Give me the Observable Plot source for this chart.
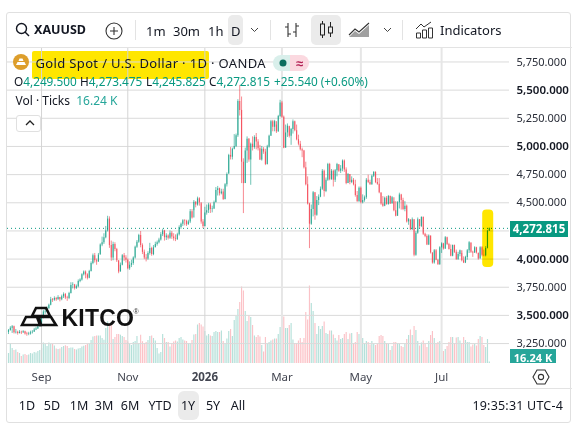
<!DOCTYPE html>
<html><head><meta charset="utf-8">
<script src="https://cdn.jsdelivr.net/npm/d3@7"></script>
<script src="https://cdn.jsdelivr.net/npm/@observablehq/plot@0.6"></script>
<style>
html,body{margin:0;padding:0;background:#fff;width:578px;height:425px;overflow:hidden}
#app{position:relative;width:578px;height:425px;font-family:"Noto Sans",sans-serif;color:#131722;font-size:13px}
#app>svg{position:absolute;left:0;top:0;background:transparent}
.a{position:absolute;white-space:nowrap;line-height:1}
.t{color:#089981}
.g{color:#26a69a}
.ic{position:absolute;overflow:visible}
</style></head><body><div id="app"></div>
<script>
const closes=[
3365,3385,3400,3345,3350,3340,3350,3345,3355,3335,
3330,3335,3345,3350,3370,3380,3400,3410,3480,3530,
3535,3560,3590,3640,3635,3650,3640,3660,3640,3665,
3685,3655,3650,3695,3765,3770,3740,3755,3800,3815,
3860,3885,3860,3830,3890,3960,4030,3985,3975,4035,
4125,4145,4190,4250,4355,4120,4010,4130,4085,3985,
3885,3945,4030,4010,3990,3915,3945,3960,4010,4105,
4150,4210,4120,4060,4010,4000,4050,4095,4040,4100,
4130,4145,4170,4215,4250,4190,4205,4185,4230,4195,
4180,4175,4215,4280,4310,4340,4335,4305,4330,4420,
4365,4505,4480,4535,4500,4330,4290,4410,4430,4480,
4440,4445,4500,4610,4625,4580,4595,4530,4660,4750,
4920,4905,4975,5000,5095,5400,5320,4860,4670,4960,
5065,4880,5020,4990,5080,5040,4980,4880,4975,4950,
4840,4995,5090,5220,5170,5220,5130,5265,5385,5260,
4985,5120,5180,5090,5150,5220,5140,5060,5020,4970,
4960,4810,4660,4490,4310,4440,4590,4390,4520,4550,
4620,4780,4600,4700,4840,4705,4780,4700,4785,4840,
4780,4800,4870,4790,4670,4750,4680,4700,4660,4565,
4510,4630,4500,4520,4545,4700,4680,4660,4735,4770,
4680,4665,4590,4490,4470,4540,4485,4555,4490,4545,
4430,4380,4500,4570,4520,4440,4470,4330,4350,4260,
4350,4035,4230,4350,4290,4370,4220,4200,4125,4205,
4055,3965,4075,3990,3950,4100,4135,4090,4190,4130,
4085,4025,4120,4060,3995,4040,4075,3985,3965,4015,
4075,4145,4060,4055,4100,4055,4000,4100,4035,4030,4095,4247.275,4272.815];
const highs=[
3375,3400,3410,3405,3375,3360,3365,3360,3365,3360,
3350,3350,3360,3365,3385,3395,3415,3420,3490,3545,
3560,3575,3600,3660,3650,3665,3660,3675,3660,3680,
3700,3695,3670,3705,3790,3790,3775,3770,3815,3825,
3870,3895,3895,3870,3900,3975,4045,4050,4000,4050,
4135,4195,4225,4290,4380,4375,4160,4150,4145,4095,
3985,3965,4040,4050,4030,4000,3975,3990,4020,4115,
4165,4220,4245,4135,4080,4040,4065,4140,4105,4120,
4150,4160,4185,4235,4265,4255,4225,4215,4250,4245,
4225,4215,4230,4295,4320,4350,4350,4345,4345,4440,
4440,4520,4510,4550,4545,4490,4350,4460,4480,4495,
4495,4470,4515,4635,4645,4630,4620,4620,4670,4765,
4930,4990,4985,5105,5110,5415,5542,5439,4890,4985,
5085,5070,5030,5085,5095,5115,5060,5010,5000,4990,
4975,5010,5100,5232,5232,5232,5190,5276,5410,5400,
5270,5190,5200,5175,5160,5235,5225,5190,5100,5045,
4985,4965,4860,4730,4495,4480,4600,4590,4555,4570,
4640,4795,4790,4720,4850,4850,4795,4790,4795,4850,
4835,4830,4880,4880,4810,4760,4750,4730,4715,4700,
4600,4640,4640,4570,4560,4715,4745,4700,4745,4775,
4775,4715,4715,4585,4555,4550,4555,4565,4560,4555,
4510,4510,4510,4585,4575,4540,4510,4480,4360,4345,
4365,4350,4245,4365,4350,4375,4375,4230,4215,4215,
4205,4055,4085,4085,3995,4110,4145,4140,4200,4195,
4140,4125,4125,4125,4080,4060,4080,4050,4020,4025,
4085,4155,4140,4070,4110,4105,4050,4110,4110,4080,4110,4255,4273.475];
const lows=[
3330,3360,3340,3335,3335,3325,3335,3330,3340,3325,
3315,3320,3325,3335,3350,3365,3375,3395,3405,3470,
3510,3525,3555,3585,3615,3625,3625,3635,3620,3630,
3650,3640,3625,3640,3690,3735,3725,3730,3745,3790,
3805,3850,3825,3815,3825,3885,3950,3965,3945,3970,
4040,4110,4130,4180,4240,4095,3980,3985,4065,3970,
3870,3885,3940,3980,3965,3905,3900,3925,3945,4000,
4095,4140,4100,4040,3995,3975,3990,4035,4025,4030,
4100,4115,4135,4160,4200,4160,4165,4170,4175,4175,
4160,4155,4165,4205,4265,4290,4295,4290,4300,4315,
4355,4430,4455,4470,4470,4310,4270,4285,4390,4405,
4405,4410,4440,4500,4560,4560,4570,4520,4525,4640,
4760,4880,4880,4970,4990,5080,5270,4670,4404,4670,
4850,4860,4655,4960,4975,4970,4960,4875,4870,4930,
4830,4835,4985,5090,5130,5130,5115,5125,5255,5250,
4980,4985,5080,5075,5010,5110,5130,5050,5005,4960,
4900,4800,4650,4480,4093,4300,4375,4345,4380,4475,
4545,4610,4550,4590,4690,4695,4700,4640,4680,4730,
4770,4760,4775,4770,4660,4670,4660,4670,4650,4550,
4505,4505,4490,4490,4505,4530,4670,4655,4655,4725,
4670,4655,4580,4478,4460,4465,4478,4478,4485,4490,
4420,4375,4380,4445,4435,4430,4420,4320,4300,4255,
4255,4020,4025,4220,4270,4280,4210,4190,4120,4120,
4045,3955,3955,3985,3945,3945,4050,4080,4085,4120,
4080,4020,4020,4050,3990,3990,4020,3975,3960,3960,
3990,4050,4050,4015,4050,4045,3990,4000,4020,4020,4020,4090,4245.825];
const volumes=[
100,200,150,130,135,110,100,70,85,90,
80,85,100,95,110,105,120,130,150,205,
190,170,205,190,195,175,145,140,145,160,
170,178,170,150,155,155,140,135,145,150,
165,173,180,190,195,230,265,270,275,275,
275,250,233,350,417,390,383,240,260,290,
290,283,270,260,230,215,190,180,210,220,
270,200,283,218,200,210,230,270,275,250,
225,150,95,110,290,250,210,210,165,200,
215,225,215,250,260,235,225,220,200,190,
230,285,290,385,400,385,365,320,275,290,
275,270,310,320,310,310,325,220,190,245,
320,340,270,430,470,540,610,765,725,520,
420,480,460,380,275,260,280,265,180,115,
260,190,210,225,235,245,245,290,360,430,
465,350,350,380,400,235,200,200,225,250,
210,250,510,435,775,600,520,400,290,370,
340,370,415,300,290,325,325,285,250,225,
280,240,250,290,310,240,295,300,200,210,
310,290,275,250,195,220,210,185,220,190,
180,195,270,280,270,220,200,190,130,170,
210,210,200,195,170,160,190,240,280,335,
280,370,330,220,175,205,225,190,160,220,
280,320,250,190,210,220,200,120,140,170,
210,260,260,195,255,260,225,195,260,230,
210,210,165,185,190,175,240,270,260,180,160,240,16.24];
const firstOpen=3350;
const gridPrices=[5750,5500,5250,5000,4750,4500,4250,4000,3750,3500,3250];
const priceTicks=[5750,5250,4750,4500,3750,3250];
const priceTicksStrong=[5500,5000,4000,3500];
const monthIndex=[18,65,107,149,192,236];
const monthLabels=["Sep","Nov","2026","Mar","May","Jul"];
const lastPrice=4272.815;
const rangeButtons=["1D","5D","1M","3M","6M","YTD","1Y","5Y","All"];
const intervals=["1m","30m","1h","D"];

const bars=closes.map((c,i)=>{const o=i?closes[i-1]:firstOpen;return {i,o,c,h:highs[i],l:lows[i],v:volumes[i],up:c>=o};});
const TEAL="#089981",RED="#f23645";
const shared={width:578,height:425,marginLeft:7,marginRight:69,marginTop:47,marginBottom:62,
  x:{type:"linear",domain:[-0.545,273],axis:null}};
const fmt=d3.format(",.3f");
const axisFont={fontSize:11,tickSize:0,tickPadding:7,fill:"#2a2e39",tickFormat:d=>fmt(d),label:null,anchor:"right"};

const vol=Plot.plot({...shared,style:{background:"transparent"},
  y:{domain:[0,3160],axis:null},
  marks:[Plot.ruleX(bars,{x:"i",y:"v",strokeWidth:1.15,stroke:d=>d.up?TEAL:RED,strokeOpacity:0.3})]});

const highlightBox=[{x1:258.4,x2:264.4,y1:3925,y2:4435}];
const main=Plot.plot({...shared,style:{background:"transparent",fontFamily:"'Noto Sans',sans-serif"},
  x:{...shared.x,axis:null},
  y:{domain:[3073,5878.5],axis:null},
  marks:[
    Plot.gridY(gridPrices,{stroke:"#dadada",strokeOpacity:1,strokeWidth:1}),
    Plot.gridX(monthIndex.slice(0,3),{stroke:"#d4d4d4",strokeOpacity:1,strokeWidth:1}),
    Plot.gridX(monthIndex.slice(3),{stroke:"#e6e6e6",strokeOpacity:1,strokeWidth:2}),
    Plot.ruleY([lastPrice],{stroke:TEAL,strokeDasharray:"1,3",strokeWidth:1}),
    Plot.ruleX(bars,{x:"i",y1:"l",y2:"h",strokeWidth:0.9,stroke:d=>d.up?TEAL:RED,strokeOpacity:0.65}),
    Plot.ruleX(bars,{x:"i",y1:"o",y2:"c",strokeWidth:1.2,stroke:d=>d.up?TEAL:RED,strokeOpacity:0.65}),
    Plot.rect(highlightBox,{x1:"x1",x2:"x2",y1:"y1",y2:"y2",fill:"#ffe600",rx:4,mixBlendMode:"multiply"}),
    Plot.axisY(priceTicks,axisFont),
    Plot.axisY(priceTicksStrong,{...axisFont,fontSize:11.5,fontWeight:600,fill:"#131722"}),
    Plot.axisX(monthIndex.filter((d,k)=>k!==2),{anchor:"bottom",tickSize:0,tickPadding:9,fontSize:11.5,fill:"#434651",label:null,
      tickFormat:d=>monthLabels[monthIndex.indexOf(d)]}),
    Plot.axisX([monthIndex[2]],{anchor:"bottom",tickSize:0,tickPadding:9,fontSize:11.5,fontWeight:700,fill:"#434651",label:null,
      tickFormat:d=>monthLabels[monthIndex.indexOf(d)]})
  ]});

const app=document.getElementById("app");
function box(l,t,w,h,css){const d=document.createElement("div");d.className="a";d.style.cssText=`left:${l}px;top:${t}px;width:${w}px;height:${h}px;${css||""}`;app.appendChild(d);return d;}
function txt(s,l,cy,css,anchor){const d=document.createElement("div");d.className="a";d.innerHTML=s;d.style.cssText=`left:${l}px;top:${cy}px;transform:translate(${anchor==="m"?"-50%":anchor==="e"?"-100%":"0"},-50%);${css||""}`;app.appendChild(d);return d;}
function ic(l,t,w,h,body){const d=document.createElement("div");d.innerHTML=`<svg class="ic" style="left:${l}px;top:${t}px" width="${w}" height="${h}" viewBox="0 0 ${w} ${h}">${body}</svg>`;app.appendChild(d.firstChild);}

// frame and selection backgrounds sit under the plots
box(32,50.5,177,28.5,"background:#ffe600;border-radius:2px");
box(228,15,15,30,"background:#ebebeb;border-radius:5px");
box(310.5,15,30.5,30,"background:#ebebeb;border-radius:5px");
box(178,391,21,29,"background:#ebebeb;border-radius:6px");
app.appendChild(vol);
app.appendChild(main);
box(6,12,565,411,"border:1.5px solid #e0e0e0;border-radius:3px;box-sizing:border-box");
box(6,47,566,1,"background:#e3e3e3");
box(6,388,566,1,"background:#e3e3e3");
[135,270,402].forEach(x=>box(x,20,1,20,"background:#e3e3e3"));

// toolbar
ic(15,22,16,16,'<circle cx="6.5" cy="6.5" r="5" fill="none" stroke="#131722" stroke-width="1.4"/><path d="M10 10l4 4" stroke="#131722" stroke-width="1.5"/>');
txt("XAUUSD",34,29.5,"font-weight:700;font-size:12.5px");
ic(105,22,18,18,'<circle cx="9" cy="9" r="8" fill="none" stroke="#333" stroke-width="1.1"/><path d="M5 9h8M9 5v8" stroke="#333" stroke-width="1.1"/>');
[[146,"1m"],[173,"30m"],[208,"1h"],[231,"D"]].forEach(([x,s])=>txt(s,x,30.5,"font-size:13px"));
const chev=(x,y)=>ic(x,y,9,6,'<path d="M1 1l3.5 3.5L8 1" fill="none" stroke="#444" stroke-width="1"/>');
chev(250,27);chev(383,27);
ic(283,20,18,20,'<path d="M5 3v14M5 7H2M5 14h3M13 3v14M13 6h3M13 12h-3" fill="none" stroke="#333" stroke-width="1.1"/>');
ic(319,20,16,20,'<rect x="1.5" y="4" width="4" height="11" fill="none" stroke="#222"/><path d="M3.5 1v3M3.5 15v3M11.5 2v5M11.5 13v4" stroke="#222"/><rect x="9.5" y="7" width="4" height="6" fill="none" stroke="#222"/>');
ic(348,21,23,17,'<path d="M1 14l6-6 4 3 10-9" fill="none" stroke="#333" stroke-width="1.1"/><path d="M1 16l6-6 4 3 10-9v12H1z" fill="#777" opacity=".7"/>');
ic(415,21,19,18,'<path d="M1 8l5-5 3 3 7-5" fill="none" stroke="#333"/><path d="M1.5 17v-5h4v5zM7.5 17v-8h4v8zM13.5 17v-10h4v10z" fill="none" stroke="#333"/>');
txt("Indicators",440,30,"font-size:13px");

// legend
ic(13,54,16,16,'<circle cx="8" cy="8" r="8" fill="#dd9e2c"/><path d="M3 11l1.5-3h7l1.5 3zM5.5 7l1-2.5h3l1 2.5z" fill="#fff"/>');
txt("Gold Spot / U.S. Dollar · 1D · OANDA",35.5,63,"font-size:13px;letter-spacing:.35px");
box(273,55,17,16,"background:#d9efeb;border-radius:8px 0 0 8px");
box(290,55,19,16,"background:#fbd9e0;border-radius:0 8px 8px 0");
ic(279,59,8,8,'<circle cx="4" cy="4" r="3.5" fill="#0b6e5e"/>');
txt("≈",299.5,62.5,"font-size:13px;font-weight:700;color:#b21e52","m");
txt('O<span class="t">4,249.500</span>',14,81.5,"font-size:11.8px");
txt('H<span class="t">4,273.475</span>',80,81.5,"font-size:11.8px");
txt('L<span class="t">4,245.825</span>',146,81.5,"font-size:11.8px");
txt('C<span class="t">4,272.815</span>',209,81.5,"font-size:11.8px");
txt('+25.540 (+0.60%)',274,81.5,"font-size:11.8px;color:#089981");
txt('Vol · Ticks &nbsp;<span class="g">16.24 K</span>',15.5,101,"font-size:12px");
box(16,115,25,17,"background:#fff;border:1px solid #e0e0e0;border-radius:3px;box-sizing:border-box");
ic(25,120,10,6,'<path d="M1 5l4-4 4 4" fill="none" stroke="#222" stroke-width="1.3"/>');

// price tags
box(510,221,58,16,"background:#089981");
txt("4,272.815",539,229,"font-size:11.5px;font-weight:700;color:#fff","m");
box(510,349,46,14,"background:#26a69a");
txt("16.24 K",533,356.5,"font-size:11px;font-weight:700;color:#fff","m");
ic(532,368,18,18,'<path d="M5 2h8l4 7-4 7H5L1 9z" fill="none" stroke="#333" stroke-width="1.1"/><circle cx="9" cy="9" r="2.6" fill="none" stroke="#333" stroke-width="1.1"/>');

// logo
ic(20,306,38,21,'<g fill="none" stroke="#111" stroke-width="2.6"><path d="M12 10l4-8h10l4 8z" /><path d="M2 19l4-8h11l3 8z"/><path d="M21 19l-2-8h12l5 8z"/></g>');
txt("KITCO",61.5,318,"font-family:'Liberation Sans';font-size:23px;font-weight:700;color:#111;letter-spacing:.2px");
txt("®",136,311,"font-family:'Liberation Sans';font-size:7px;color:#333","m");

// range row
const rx=[27,52,79,104,130,160,188,213,238];
rangeButtons.forEach((s,k)=>txt(s,rx[k],406,"font-size:12.5px","m"));
txt("19:35:31 UTC-4",563,406,"font-size:12.5px;letter-spacing:.2px","e");
</script></body></html>
